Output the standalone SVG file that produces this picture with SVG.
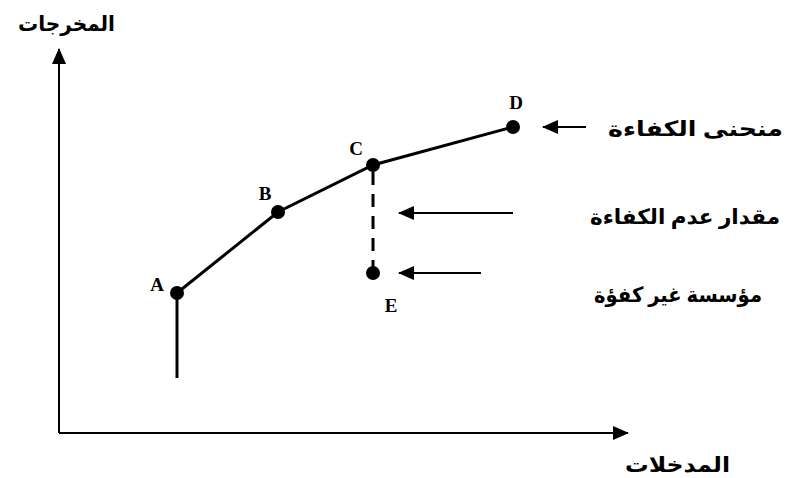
<svg xmlns="http://www.w3.org/2000/svg" width="811" height="478" viewBox="0 0 811 478">
<style>
.ax{stroke:#000;stroke-width:2;fill:none}
.ln{stroke:#000;stroke-width:3;fill:none}
.dash{stroke:#000;stroke-width:3;fill:none;stroke-dasharray:13 9}
.pt{fill:#000}
.lbl{font-family:"Liberation Serif","Times New Roman",serif;font-weight:bold;font-size:19px;fill:#000}
.ar{font-family:"Liberation Serif","DejaVu Serif","DejaVu Sans",serif;font-weight:bold;font-size:21px;fill:#000}
</style>
<defs>
<marker id="ahBig" markerWidth="16" markerHeight="14" refX="15" refY="7" orient="auto" markerUnits="userSpaceOnUse">
<path d="M0,0 L16,7 L0,14 Z" fill="#000"/>
</marker>
</defs>
<g id="connectors">
<line class="ax" x1="59" y1="433" x2="59" y2="49" marker-end="url(#ahBig)"/>
<line class="ax" x1="59" y1="433" x2="628" y2="433" marker-end="url(#ahBig)"/>
<line class="ln" x1="177" y1="293" x2="177" y2="378"/>
<polyline class="ln" points="177,293 278,212 373,165 513,127"/>
<line class="dash" x1="373" y1="172" x2="373" y2="273"/>
<line class="ax" x1="586" y1="127" x2="543" y2="127" marker-end="url(#ahBig)"/>
<line class="ax" x1="513" y1="213" x2="399" y2="213" marker-end="url(#ahBig)"/>
<line class="ax" x1="481" y1="273" x2="399" y2="273" marker-end="url(#ahBig)"/>
</g>
<g id="node-A"><circle class="pt" cx="177" cy="293" r="7"/><text class="lbl" x="157" y="291" text-anchor="middle">A</text></g>
<g id="node-B"><circle class="pt" cx="278" cy="212" r="7"/><text class="lbl" x="265" y="200" text-anchor="middle">B</text></g>
<g id="node-C"><circle class="pt" cx="373" cy="165" r="7"/><text class="lbl" x="356" y="155" text-anchor="middle">C</text></g>
<g id="node-D"><circle class="pt" cx="513" cy="127" r="7"/><text class="lbl" x="516" y="109" text-anchor="middle">D</text></g>
<g id="node-E"><circle class="pt" cx="373" cy="273" r="7"/><text class="lbl" x="391" y="312" text-anchor="middle">E</text></g>
<g id="label-y"><text class="ar" x="115" y="31" text-anchor="end" textLength="97" lengthAdjust="spacingAndGlyphs">المخرجات</text></g>
<g id="label-x"><text class="ar" x="730" y="472" text-anchor="end" textLength="105" lengthAdjust="spacingAndGlyphs">المدخلات</text></g>
<g id="label-curve"><text class="ar" x="783" y="136" text-anchor="end" textLength="175" lengthAdjust="spacingAndGlyphs">منحنى الكفاءة</text></g>
<g id="label-ineff"><text class="ar" x="780" y="224" text-anchor="end" textLength="190" lengthAdjust="spacingAndGlyphs">مقدار عدم الكفاءة</text></g>
<g id="label-firm"><text class="ar" x="762" y="302" text-anchor="end" textLength="168" lengthAdjust="spacingAndGlyphs">مؤسسة غير كفؤة</text></g>
</svg>
